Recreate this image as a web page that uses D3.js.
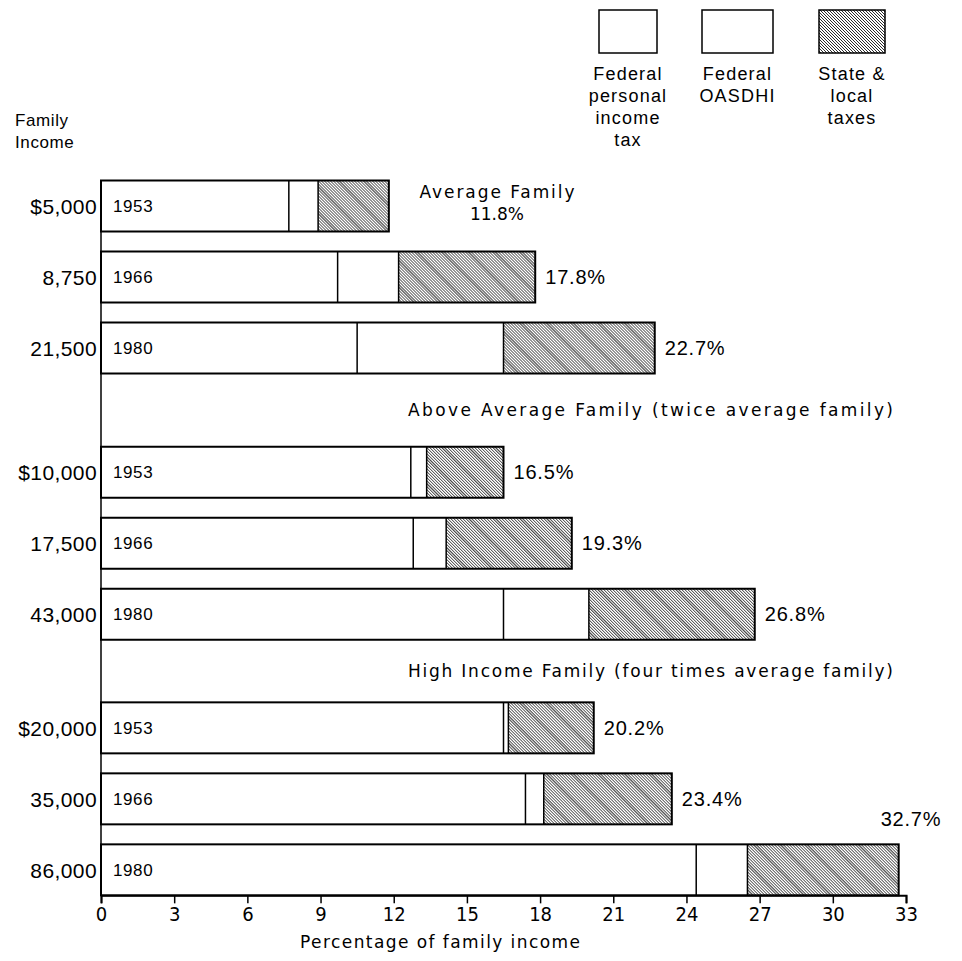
<!DOCTYPE html>
<html>
<head>
<meta charset="utf-8">
<script src="https://cdn.jsdelivr.net/npm/d3@7"></script>
<style>
  body { margin: 0; background: #fff; }
  svg { display: block; font-family: "Liberation Sans", Arial, sans-serif; }
</style>
</head>
<body>
<svg id="chart" width="962" height="961"></svg>
<script>
// values (percent of family income)
var incomes = ["$5,000", "8,750", "21,500", "$10,000", "17,500", "43,000", "$20,000", "35,000", "86,000"];
var years = ["1953", "1966", "1980", "1953", "1966", "1980", "1953", "1966", "1980"];
var groupOf = [0, 0, 0, 1, 1, 1, 2, 2, 2];
var groupNames = ["Average Family", "Above Average Family (twice average family)", "High Income Family (four times average family)"];
var federalTax = [7.7, 9.7, 10.5, 12.7, 12.8, 16.5, 16.5, 17.4, 24.4];
var oasdhi = [1.2, 2.5, 6.0, 0.65, 1.35, 3.5, 0.2, 0.75, 2.1];
var totals = [11.8, 17.8, 22.7, 16.5, 19.3, 26.8, 20.2, 23.4, 32.7];
var ticks = [0, 3, 6, 9, 12, 15, 18, 21, 24, 27, 30, 33];
var legendLabels = [["Federal", "personal", "income", "tax"], ["Federal", "OASDHI"], ["State &", "local", "taxes"]];

var svg = d3.select("#chart");
var wide = "'DejaVu Sans', Verdana, sans-serif";

var x = d3.scaleLinear().domain([0, 33]).range([101, 906]);
// rows sit on slots; each family group is pushed down by an extra gap
var groupOffset = [0, 0.75, 1.35], barH = 51;
var y = d3.scaleLinear().domain([0, 1]).range([206, 277]);
function slot(i){ return i + groupOffset[groupOf[i]]; }

var defs = svg.append("defs");
var pat = defs.append("pattern")
    .attr("id", "hatch")
    .attr("patternUnits", "userSpaceOnUse")
    .attr("width", 3).attr("height", 3);
pat.append("rect").attr("width", 3).attr("height", 3).attr("fill", "#fff");
pat.append("path")
    .attr("d", "M-1,-1L4,4M-1,2L1,4M2,-1L4,1")
    .attr("stroke", "#222").attr("stroke-width", 0.95);
var streak = defs.append("pattern")
    .attr("id", "streak")
    .attr("patternUnits", "userSpaceOnUse")
    .attr("width", 26).attr("height", 26);
streak.append("path")
    .attr("d", "M-2,-2L28,28M-2,24L2,28M24,-2L28,2")
    .attr("stroke", "#000").attr("stroke-width", 3).attr("opacity", 0.22);

var rows = incomes.map(function(d, i){
    return {income: d, year: years[i], fed: federalTax[i], oas: oasdhi[i], total: totals[i], i: i};
});

var g = svg.selectAll("g.row").data(rows).enter().append("g")
    .attr("class", "row")
    .attr("transform", function(d){ return "translate(0," + (y(slot(d.i)) - barH / 2) + ")"; });

g.append("rect")
    .attr("x", x(0)).attr("width", function(d){ return x(d.fed + d.oas) - x(0); })
    .attr("height", barH).attr("fill", "#fff");
g.append("rect")
    .attr("x", function(d){ return x(d.fed + d.oas); })
    .attr("width", function(d){ return x(d.total) - x(d.fed + d.oas); })
    .attr("height", barH).attr("fill", "url(#hatch)");
g.append("rect")
    .attr("x", function(d){ return x(d.fed + d.oas); })
    .attr("width", function(d){ return x(d.total) - x(d.fed + d.oas); })
    .attr("height", barH).attr("fill", "url(#streak)");
// dividers between the three taxes
g.selectAll("line.div").data(function(d){ return [d.fed, d.fed + d.oas]; })
  .enter().append("line")
    .attr("x1", function(v){ return x(v); }).attr("x2", function(v){ return x(v); })
    .attr("y1", 0).attr("y2", barH)
    .attr("stroke", "#000").attr("stroke-width", 1.5);
g.append("rect")
    .attr("x", x(0)).attr("width", function(d){ return x(d.total) - x(0); })
    .attr("height", barH).attr("fill", "none")
    .attr("stroke", "#000").attr("stroke-width", 2);

g.append("text")
    .attr("x", x(0) + 12).attr("y", barH / 2 + 6)
    .attr("font-size", 17).attr("letter-spacing", 0.6)
    .text(function(d){ return d.year; });

g.append("text")
    .attr("x", x(0) - 4).attr("y", barH / 2 + 8)
    .attr("text-anchor", "end").attr("font-size", 21).attr("letter-spacing", 0.4)
    .text(function(d){ return d.income; });

// total labels
g.filter(function(d){ return d.i > 0 && d.i < rows.length - 1; })
  .append("text")
    .attr("x", function(d){ return x(d.total) + 10; }).attr("y", barH / 2 + 7)
    .attr("font-size", 20).attr("letter-spacing", 0.8)
    .text(function(d){ return d.total + "%"; });
g.filter(function(d){ return d.i === rows.length - 1; })
  .append("text")
    .attr("x", function(d){ return x(d.total) - 18; }).attr("y", -18)
    .attr("font-size", 20).attr("letter-spacing", 0.8)
    .text(function(d){ return d.total + "%"; });

// group titles
var t0 = svg.append("text").attr("text-anchor", "middle")
    .attr("font-size", 17).attr("font-family", wide);
t0.append("tspan").attr("x", 497).attr("y", y(slot(0)) - 8)
    .attr("textLength", 155).attr("lengthAdjust", "spacing").text(groupNames[0]);
t0.append("tspan").attr("x", 497).attr("y", y(slot(0)) + 14)
    .text(totals[0] + "%");

[1, 2].forEach(function(gi){
    var r = groupOf.indexOf(gi);
    svg.append("text")
        .attr("x", 408)
        .attr("y", (y(slot(r - 1)) + y(slot(r))) / 2 + 6)
        .attr("font-size", 17).attr("font-family", wide)
        .attr("textLength", 485).attr("lengthAdjust", "spacing")
        .text(groupNames[gi]);
});

// axes
var yTop = y(slot(0)) - barH / 2, yBot = y(slot(rows.length - 1)) + barH / 2;
svg.append("line")
    .attr("x1", x(0)).attr("x2", x(0)).attr("y1", yTop).attr("y2", yBot)
    .attr("stroke", "#000").attr("stroke-width", 1.5);

var xAxis = svg.append("g")
    .attr("transform", "translate(0," + yBot + ")")
    .call(d3.axisBottom(x).tickValues(ticks).tickSize(8).tickPadding(3).tickFormat(d3.format("d")));
xAxis.select(".domain").attr("stroke-width", 2);
xAxis.selectAll(".tick line").attr("stroke-width", 1.5);
xAxis.selectAll(".tick text")
    .attr("font-size", 20).attr("font-family", "'DejaVu Sans Condensed', 'Liberation Sans Narrow', sans-serif")
    .attr("font-weight", 300).attr("fill", "#000");

svg.append("text")
    .attr("x", 440).attr("y", yBot + 53)
    .attr("text-anchor", "middle").attr("font-size", 17).attr("font-family", wide)
    .attr("textLength", 280).attr("lengthAdjust", "spacing")
    .text("Percentage of family income");

svg.append("text").attr("x", 15).attr("y", 126).attr("font-size", 17).attr("letter-spacing", 0.6).text("Family");
svg.append("text").attr("x", 15).attr("y", 148).attr("font-size", 17).attr("letter-spacing", 0.6).text("Income");

// legend
var legendX = [599, 702, 819], legendW = [58, 71, 66];
var lg = svg.selectAll("g.legend").data(legendLabels).enter().append("g").attr("class", "legend");
lg.append("rect")
    .attr("x", function(d, i){ return legendX[i]; }).attr("y", 10)
    .attr("width", function(d, i){ return legendW[i]; }).attr("height", 43)
    .attr("fill", function(d, i){ return i === 2 ? "url(#hatch)" : "#fff"; })
    .attr("stroke", "#000").attr("stroke-width", 1.5);
lg.selectAll("text").data(function(d, i){ return d.map(function(s){ return {s: s, i: i}; }); })
  .enter().append("text")
    .attr("x", function(d){ return legendX[d.i] + legendW[d.i] / 2; })
    .attr("y", function(d, j){ return 80 + j * 22; })
    .attr("text-anchor", "middle").attr("font-size", 18).attr("letter-spacing", 1.2)
    .text(function(d){ return d.s; });
</script>
</body>
</html>
